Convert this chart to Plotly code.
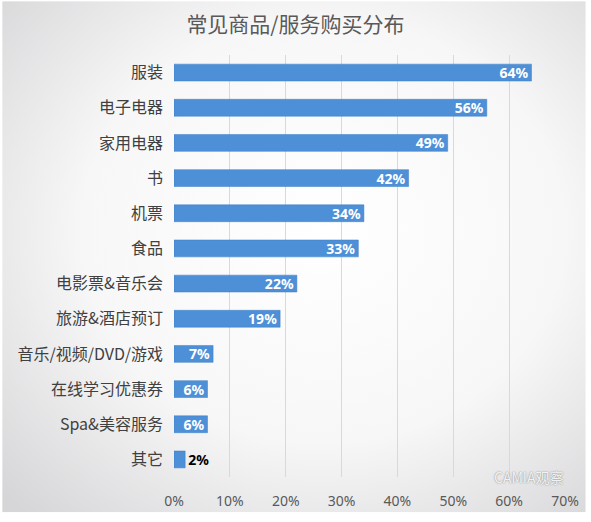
import plotly.graph_objects as go
import base64

categories = ["服装", "电子电器", "家用电器", "书", "机票", "食品", "电影票&音乐会",
              "旅游&酒店预订", "音乐/视频/DVD/游戏", "在线学习优惠券", "Spa&美容服务", "其它"]
values = [64, 56, 49, 42, 34, 33, 22, 19, 7, 6, 6, 2]
labels = [f"{v}%" for v in values]
tick_vals = [0, 10, 20, 30, 40, 50, 60, 70]
tick_text = [f"{t}%" for t in tick_vals]

positions = ["inside"] * (len(values) - 1) + ["outside"]

svg = """<svg xmlns='http://www.w3.org/2000/svg' width='591' height='522'>
<defs><radialGradient id='g' cx='0.55' cy='0.45' r='0.75'>
<stop offset='0' stop-color='#ffffff'/><stop offset='0.55' stop-color='#f7f7f8'/>
<stop offset='1' stop-color='#d6d6d8'/></radialGradient></defs>
<rect width='591' height='522' fill='url(#g)'/></svg>"""
bg = "data:image/svg+xml;base64," + base64.b64encode(svg.encode()).decode()

L, R, T, B = 174, 21, 55, 36
PW, PH = 591 - L - R, 522 - T - B

fig = go.Figure(go.Bar(
    x=values, y=categories, orientation="h",
    marker=dict(color="#4d90d8", line=dict(color="#3f7fc4", width=0.5)),
    text=labels, textposition=positions, insidetextanchor="end",
    constraintext="none", cliponaxis=False,
    insidetextfont=dict(color="white", size=14, family="Noto Sans", weight="bold"),
    outsidetextfont=dict(color="black", size=14, family="Noto Sans", weight="bold"),
))

fig.update_layout(
    width=591, height=522,
    margin=dict(l=L, r=R, t=T, b=B),
    paper_bgcolor="rgba(0,0,0,0)", plot_bgcolor="rgba(0,0,0,0)",
    bargap=0.52,
    showlegend=False,
    title=dict(text="常见商品/服务购买分布", x=0.5, xanchor="center", y=0.952, yanchor="middle",
               font=dict(size=21, color="#595959", family="Noto Sans CJK SC")),
    font=dict(family="Noto Sans CJK SC", color="#404040"),
    images=[dict(source=bg, xref="paper", yref="paper", x=-L / PW, y=1 + T / PH,
                 sizex=591 / PW, sizey=522 / PH,
                 xanchor="left", yanchor="top", layer="below", sizing="stretch")],
    xaxis=dict(range=[0, 70], tickvals=tick_vals, ticktext=tick_text,
               showgrid=True, gridcolor="#d9d9d9", gridwidth=1, zeroline=False,
               showline=False, ticks="", ticklabelstandoff=14,
               tickfont=dict(size=14, color="#595959", family="Noto Sans")),
    yaxis=dict(autorange="reversed", showgrid=False, zeroline=False, showline=False,
               ticks="", ticklabelstandoff=10,
               tickfont=dict(size=16, color="#404040", family="Noto Sans CJK SC")),
    annotations=[dict(text="CAMIA观察", xref="paper", yref="paper", x=1.0, y=-0.028,
                      xanchor="right", yanchor="bottom", showarrow=False,
                      font=dict(size=14, color="rgba(255,255,255,0.9)", family="Noto Sans CJK SC",
                                shadow="0px 0px 1.5px #666"))],
)

fig.write_html("out.html", config={"displayModeBar": False},
               post_script="document.body.style.margin='0';document.body.style.overflow='hidden';")
